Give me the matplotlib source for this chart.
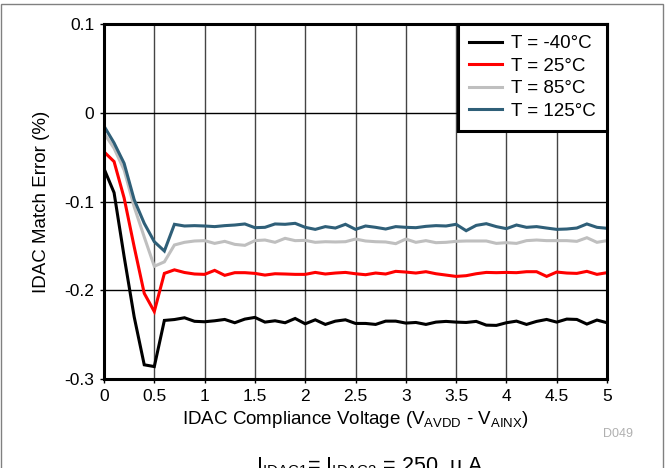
import matplotlib
matplotlib.use("Agg")
import matplotlib.pyplot as plt
from matplotlib.patches import Rectangle
import numpy as np

plt.rcParams['font.family'] = ['Liberation Sans', 'DejaVu Sans']
plt.rcParams['mathtext.fontset'] = 'custom'
plt.rcParams['mathtext.rm'] = 'Liberation Sans'
plt.rcParams['mathtext.it'] = 'Liberation Sans'

# compliance voltage, 0 to 5 V in 0.1 V steps
volts = np.round(np.arange(0, 5.01, 0.1), 1)

err_m40 = [-0.063, -0.090, -0.162, -0.230, -0.284, -0.286, -0.234, -0.233, -0.231, -0.235,
           -0.2355, -0.2344, -0.2329, -0.2366, -0.2325, -0.2306, -0.2359, -0.2344, -0.2366, -0.2318,
           -0.2378, -0.2333, -0.2385, -0.2348, -0.2333, -0.2374, -0.2374, -0.2385, -0.2348, -0.2348,
           -0.2370, -0.2363, -0.2385, -0.2359, -0.2351, -0.2359, -0.2363, -0.2351, -0.2393, -0.2396,
           -0.2366, -0.2348, -0.2385, -0.2351, -0.2329, -0.2359, -0.2325, -0.2329, -0.2381, -0.2336,
           -0.2366]
err_25 = [-0.044, -0.055, -0.096, -0.151, -0.2035, -0.224, -0.181, -0.177, -0.180, -0.1817,
          -0.1821, -0.1776, -0.1832, -0.1802, -0.1802, -0.1810, -0.1829, -0.1814, -0.1817, -0.1821,
          -0.1821, -0.1799, -0.1817, -0.1806, -0.1799, -0.1814, -0.1825, -0.1806, -0.1817, -0.1787,
          -0.1795, -0.1806, -0.1791, -0.1814, -0.1829, -0.1844, -0.1836, -0.1814, -0.1799, -0.1802,
          -0.1799, -0.1802, -0.1791, -0.1791, -0.1844, -0.1795, -0.1806, -0.1810, -0.1787, -0.1821,
          -0.1802]
err_85 = [-0.023, -0.040, -0.0645, -0.106, -0.140, -0.173, -0.168, -0.149, -0.146, -0.1445,
          -0.1441, -0.1472, -0.1449, -0.1483, -0.1494, -0.1441, -0.1434, -0.1460, -0.1415, -0.1441,
          -0.1438, -0.1460, -0.1453, -0.1456, -0.1453, -0.1423, -0.1445, -0.1453, -0.1456, -0.1475,
          -0.1423, -0.1460, -0.1441, -0.1464, -0.1460, -0.1449, -0.1445, -0.1445, -0.1445, -0.1472,
          -0.1464, -0.1472, -0.1441, -0.1434, -0.1441, -0.1441, -0.1441, -0.1449, -0.1408, -0.1460,
          -0.1441]
err_125 = [-0.015, -0.034, -0.057, -0.098, -0.1246, -0.1453, -0.1558, -0.1257, -0.1276, -0.1272,
           -0.1276, -0.1283, -0.1272, -0.1265, -0.1253, -0.1295, -0.1291, -0.1253, -0.1257, -0.1246,
           -0.1291, -0.1314, -0.1283, -0.1299, -0.1257, -0.1314, -0.1276, -0.1291, -0.1310, -0.1283,
           -0.1291, -0.1295, -0.1280, -0.1272, -0.1276, -0.1257, -0.1329, -0.1269, -0.1250, -0.1283,
           -0.1306, -0.1265, -0.1291, -0.1283, -0.1299, -0.1314, -0.1310, -0.1299, -0.1253, -0.1291,
           -0.1302]

labels = ['T = -40°C', 'T = 25°C', 'T = 85°C', 'T = 125°C']
colors = ['#000000', '#ff0000', '#bfbfbf', '#2f5f78']
xticks = [0, 0.5, 1, 1.5, 2, 2.5, 3, 3.5, 4, 4.5, 5]
xtick_labels = ['0', '0.5', '1', '1.5', '2', '2.5', '3', '3.5', '4', '4.5', '5']
yticks = [-0.3, -0.2, -0.1, 0, 0.1]
ytick_labels = ['-0.3', '-0.2', '-0.1', '0', '0.1']

fs_tick = 12.5
fs_lab = 13.5

fig = plt.figure(figsize=(6.66, 4.68), dpi=100)
ax = fig.add_axes([104 / 666, 1 - 379 / 468, 503 / 666, 355 / 468])

for ys, lab, c in zip([err_m40, err_25, err_85, err_125], labels, colors):
    ax.plot(volts, ys, color=c, lw=2.2, label=lab, solid_joinstyle='miter')

ax.set_xlim(0, 5)
ax.set_ylim(-0.3, 0.1)
ax.set_xticks(xticks)
ax.set_xticklabels(xtick_labels)
ax.set_yticks(yticks)
ax.set_yticklabels(ytick_labels)
ax.tick_params(labelsize=fs_tick, length=3, width=1, direction='out', pad=4)

for x in xticks[1:-1]:
    ax.axvline(x, color='#444444', lw=1, zorder=0)
for y in yticks[1:-1]:
    ax.axhline(y, color='black', lw=1, zorder=0)

for s in ax.spines.values():
    s.set_linewidth(2.2)

ax.set_xlabel(r'IDAC Compliance Voltage (V$_{\mathregular{AVDD}}$ - V$_{\mathregular{AINX}}$)',
              fontsize=fs_lab, labelpad=4)
ax.set_ylabel('IDAC Match Error (%)', fontsize=fs_lab, labelpad=10)

leg = ax.legend(loc='upper right', fontsize=fs_lab, frameon=True, fancybox=False,
                edgecolor='black', framealpha=1, borderaxespad=0,
                handlelength=1.75, handletextpad=0.5, labelspacing=0.28,
                borderpad=0.6)
leg.get_frame().set_linewidth(2.2)

fig.text(603 / 666, 1 - 437 / 468, 'D049', fontsize=9, color='#b0b0b0')
fig.text(370 / 666, 1 - 472 / 468,
         r'I$_{\mathregular{IDAC1}}$= I$_{\mathregular{IDAC2}}$ = 250  µ A',
         fontsize=15.5, ha='center', va='baseline')

fig.patches.append(Rectangle((1 / 666, -0.1), 662 / 666, 1.1 - 4 / 468,
                             transform=fig.transFigure, fill=False,
                             edgecolor='#808080', lw=1))

fig.savefig('out.png', dpi=100)
